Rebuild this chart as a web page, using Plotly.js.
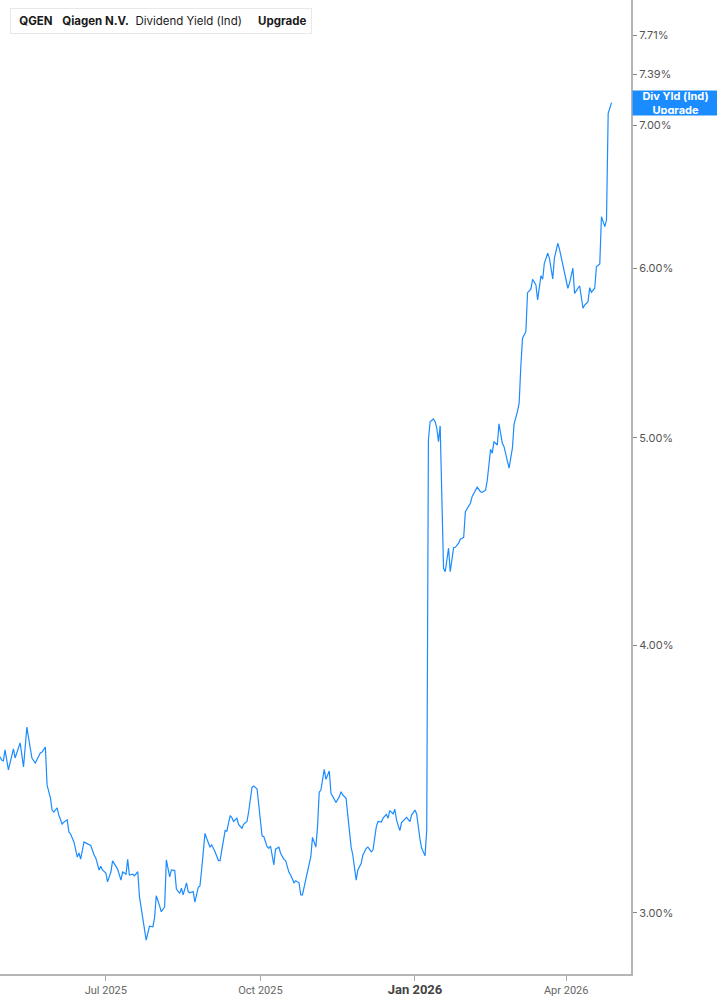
<!DOCTYPE html>
<html>
<head>
<meta charset="utf-8">
<script src="https://cdn.plot.ly/plotly-3.0.1.min.js"></script>
<style>html,body{margin:0;padding:0;background:#fff;}#chart{width:717px;height:1005px;}</style>
</head>
<body>
<div id="chart"></div>
<script>
const dates = [
"2025-04-29","2025-04-30","2025-05-01","2025-05-02","2025-05-04","2025-05-05","2025-05-07","2025-05-08","2025-05-10","2025-05-11",
"2025-05-13","2025-05-15","2025-05-17","2025-05-18","2025-05-20","2025-05-21","2025-05-23","2025-05-24","2025-05-26","2025-05-27",
"2025-05-29","2025-05-30","2025-05-31","2025-06-02","2025-06-03","2025-06-05","2025-06-06","2025-06-08","2025-06-09","2025-06-10",
"2025-06-12","2025-06-14","2025-06-15","2025-06-16","2025-06-18","2025-06-19","2025-06-21","2025-06-22","2025-06-24","2025-06-25",
"2025-06-27","2025-06-28","2025-06-29","2025-07-01","2025-07-02","2025-07-04","2025-07-05","2025-07-07","2025-07-08","2025-07-10",
"2025-07-11","2025-07-13","2025-07-14","2025-07-15","2025-07-17","2025-07-18","2025-07-20","2025-07-21","2025-07-23","2025-07-25",
"2025-07-27","2025-07-29","2025-07-30","2025-07-31","2025-08-02","2025-08-03","2025-08-05","2025-08-06","2025-08-08","2025-08-09",
"2025-08-11","2025-08-12","2025-08-14","2025-08-15","2025-08-16","2025-08-18","2025-08-19","2025-08-20","2025-08-22","2025-08-23",
"2025-08-25","2025-08-26","2025-08-27","2025-08-29","2025-08-30","2025-09-01","2025-09-02","2025-09-04","2025-09-06","2025-09-07",
"2025-09-08","2025-09-10","2025-09-11","2025-09-13","2025-09-14","2025-09-15","2025-09-17","2025-09-18","2025-09-20","2025-09-21",
"2025-09-23","2025-09-24","2025-09-26","2025-09-27","2025-09-29","2025-09-30","2025-10-02","2025-10-03","2025-10-05","2025-10-06",
"2025-10-07","2025-10-09","2025-10-10","2025-10-12","2025-10-13","2025-10-15","2025-10-16","2025-10-18","2025-10-19","2025-10-21",
"2025-10-22","2025-10-24","2025-10-25","2025-10-26","2025-10-28","2025-10-29","2025-10-31","2025-11-01","2025-11-03","2025-11-04",
"2025-11-05","2025-11-06","2025-11-08","2025-11-09","2025-11-11","2025-11-12","2025-11-14","2025-11-15","2025-11-17","2025-11-18",
"2025-11-19","2025-11-21","2025-11-22","2025-11-24","2025-11-25","2025-11-27","2025-11-28","2025-11-30","2025-12-01","2025-12-03",
"2025-12-04","2025-12-06","2025-12-07","2025-12-09","2025-12-10","2025-12-12","2025-12-13","2025-12-15","2025-12-16","2025-12-17",
"2025-12-19","2025-12-20","2025-12-21","2025-12-23","2025-12-24","2025-12-26","2025-12-27","2025-12-29","2025-12-30","2026-01-01",
"2026-01-02","2026-01-04","2026-01-05","2026-01-07","2026-01-08","2026-01-09","2026-01-10","2026-01-12","2026-01-13","2026-01-14",
"2026-01-15","2026-01-16","2026-01-18","2026-01-19","2026-01-21","2026-01-22","2026-01-24","2026-01-25","2026-01-27","2026-01-28",
"2026-01-30","2026-01-31","2026-02-02","2026-02-03","2026-02-04","2026-02-06","2026-02-07","2026-02-09","2026-02-10","2026-02-12",
"2026-02-13","2026-02-15","2026-02-16","2026-02-17","2026-02-19","2026-02-20","2026-02-22","2026-02-23","2026-02-24","2026-02-26",
"2026-02-28","2026-03-01","2026-03-03","2026-03-04","2026-03-05","2026-03-06","2026-03-08","2026-03-09","2026-03-11","2026-03-12",
"2026-03-14","2026-03-15","2026-03-17","2026-03-18","2026-03-19","2026-03-21","2026-03-22","2026-03-24","2026-03-25","2026-03-27",
"2026-03-28","2026-03-30","2026-03-31","2026-04-02","2026-04-03","2026-04-05","2026-04-06","2026-04-08","2026-04-09","2026-04-11",
"2026-04-12","2026-04-14","2026-04-15","2026-04-16","2026-04-18","2026-04-19","2026-04-21","2026-04-22","2026-04-24","2026-04-25",
"2026-04-26","2026-04-28"
];
const divYield = [
3.549,3.536,3.533,3.575,3.499,3.525,3.579,3.544,3.582,3.602,
3.510,3.664,3.582,3.544,3.525,3.536,3.563,3.567,3.586,3.443,
3.395,3.351,3.344,3.359,3.333,3.301,3.308,3.316,3.273,3.266,
3.238,3.186,3.200,3.179,3.238,3.235,3.228,3.226,3.193,3.183,
3.142,3.155,3.142,3.132,3.102,3.135,3.173,3.155,3.145,3.108,
3.135,3.128,3.178,3.125,3.128,3.122,3.136,3.053,2.977,2.914,
2.958,2.956,2.984,3.056,3.023,3.004,3.020,3.176,3.119,3.142,
3.140,3.078,3.064,3.081,3.059,3.099,3.070,3.066,3.070,3.035,
3.084,3.088,3.142,3.268,3.251,3.220,3.228,3.204,3.174,3.174,
3.210,3.278,3.276,3.331,3.324,3.310,3.322,3.300,3.286,3.300,
3.310,3.345,3.434,3.439,3.428,3.377,3.259,3.257,3.222,3.216,
3.224,3.159,3.213,3.220,3.199,3.178,3.174,3.134,3.125,3.099,
3.106,3.099,3.059,3.059,3.111,3.142,3.187,3.254,3.220,3.292,
3.416,3.424,3.501,3.464,3.495,3.412,3.390,3.379,3.400,3.418,
3.406,3.394,3.333,3.220,3.193,3.108,3.142,3.165,3.193,3.216,
3.220,3.204,3.210,3.292,3.310,3.308,3.322,3.336,3.322,3.349,
3.337,3.354,3.316,3.278,3.306,3.318,3.325,3.310,3.333,3.351,
3.337,3.247,3.216,3.190,3.280,4.989,5.088,5.103,5.088,5.052,
4.980,5.065,4.346,4.330,4.441,4.330,4.443,4.445,4.465,4.484,
4.493,4.619,4.644,4.661,4.694,4.724,4.742,4.719,4.716,4.727,
4.775,4.939,4.918,4.980,4.962,5.076,4.971,4.953,4.909,4.840,
4.946,5.076,5.143,5.190,5.398,5.566,5.605,5.845,5.867,5.930,
5.894,5.800,5.953,5.930,6.033,6.098,6.066,5.932,6.066,6.164,
6.126,6.022,5.953,5.873,5.905,6.001,5.841,5.873,5.889,5.748,
5.768,5.789,5.877,5.848,5.873,6.010,6.029,6.343,6.275,6.320,
7.089,7.170
];
const yTickVals = [3.00, 4.00, 5.00, 6.00, 7.00, 7.39, 7.71];
const yTickText = ["3.00%", "4.00%", "5.00%", "6.00%", "7.00%", "7.39%", "7.71%"];
const xTickVals = ["2025-07-01", "2025-10-01", "2026-01-01", "2026-04-01"];
const xTickText = ["Jul 2025", "Oct 2025", "<span style=\"font-size:13px;font-weight:bold;fill:#444\">Jan 2026</span>", "Apr 2026"];

const BLUE = "#1a8cff";
const NB = "\u00a0";

const trace = {
  x: dates, y: divYield, type: "scatter", mode: "lines",
  line: {color: BLUE, width: 1.2},
  hoverinfo: "x+y"
};

const layout = {
  width: 717, height: 1005,
  margin: {l: 0, r: 86, t: 0, b: 31, pad: 0},
  paper_bgcolor: "#ffffff", plot_bgcolor: "#ffffff",
  showlegend: false,
  font: {family: "Inter, Roboto, sans-serif", size: 11, color: "#555"},
  xaxis: {
    type: "date",
    range: ["2025-04-29", "2026-05-09 14:00"],
    tickvals: xTickVals, ticktext: xTickText,
    ticks: "outside", ticklen: 5, tickwidth: 1, tickcolor: "#aaa",
    showgrid: false, zeroline: false,
    showline: true, linecolor: "#b5b5b5", linewidth: 2,
    tickfont: {size: 11, color: "#666", family: "Roboto, Inter, sans-serif"},
    fixedrange: true
  },
  yaxis: {
    type: "log", side: "right",
    range: [Math.log10(2.8095), Math.log10(8.007)],
    tickvals: yTickVals, ticktext: yTickText,
    ticks: "outside", ticklen: 4, tickwidth: 1, tickcolor: "#888",
    showgrid: false, zeroline: false,
    showline: true, linecolor: "#b5b5b5", linewidth: 2,
    tickfont: {size: 11, color: "#555", family: "Inter, Roboto, sans-serif"},
    fixedrange: true
  },
  shapes: [
    {type: "rect", xref: "paper", yref: "paper",
     x0: 10/631, x1: 13.5/631, y0: 1 - 33/974, y1: 1 - 8/974,
     fillcolor: BLUE, line: {width: 0}, layer: "above"}
  ],
  annotations: [
    {xref: "paper", yref: "paper", x: 10/631, y: 1 - 8/974,
     xanchor: "left", yanchor: "top", showarrow: false, align: "left",
     text: NB + "<b>QGEN</b>" + NB + NB + NB + "<b>Qiagen N.V.</b>" + NB + NB + "Dividend Yield (Ind)" + NB + NB + NB + NB + NB + "<b>Upgrade</b>",
     font: {family: "Inter, Roboto, sans-serif", size: 11.5, color: "#1a1a1a"},
     bgcolor: "#ffffff", bordercolor: "#e8e8e8", borderwidth: 1, borderpad: 5},
    {xref: "paper", yref: "y", x: 1, y: Math.log10(divYield[divYield.length - 1]),
     xanchor: "left", yanchor: "middle", showarrow: false, align: "center",
     xshift: 1,
     text: "<b>Div Yld (Ind)</b><br><b>Upgrade</b>",
     font: {family: "Inter, Roboto, sans-serif", size: 11, color: "#ffffff"},
     bgcolor: BLUE, borderpad: 1, width: 83, height: 22}
  ]
};

Plotly.newPlot("chart", [trace], layout, {displayModeBar: false, staticPlot: true});
</script>
</body>
</html>
